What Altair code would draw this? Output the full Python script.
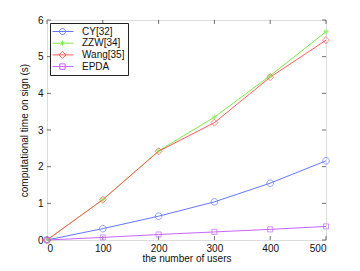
import altair as alt
import pandas as pd

users = [0, 100, 200, 300, 400, 500]
series_names = ["CY[32]", "ZZW[34]", "Wang[35]", "EPDA"]
cy = [0, 0.31, 0.65, 1.04, 1.55, 2.16]
zzw = [0, 1.10, 2.43, 3.35, 4.48, 5.68]
wang = [0, 1.10, 2.42, 3.20, 4.44, 5.45]
epda = [0, 0.07, 0.15, 0.22, 0.29, 0.37]
x_ticks = [0, 100, 200, 300, 400, 500]
y_ticks = [0, 1, 2, 3, 4, 5, 6]

colors = ["#6478ff", "#7ee84a", "#ff5c5c", "#c864ff"]
marker_paths = [
    "M1,0A1,1 0 1,1 -1,0A1,1 0 1,1 1,0",
    "M-1,0L1,0M0,-1L0,1M-0.7,-0.7L0.7,0.7M-0.7,0.7L0.7,-0.7",
    "M0,-1L1,0L0,1L-1,0Z",
    "M-0.8,-0.8L0.8,-0.8L0.8,0.8L-0.8,0.8Z",
]
marker_sizes = [44, 30, 50, 40]
# legend symbols: unit = 5px (symbolSize 100); line from -1.2 to 3.0, marker at 0.8
legend_paths = [
    "M-1.2,0L3,0M1.4,0A0.6,0.6 0 1,1 0.2,0A0.6,0.6 0 1,1 1.4,0",
    "M-1.2,0L3,0M0.8,-0.5L0.8,0.5M0.45,-0.35L1.15,0.35M0.45,0.35L1.15,-0.35",
    "M-1.2,0L3,0M0.8,-0.7L1.5,0L0.8,0.7L0.1,0Z",
    "M-1.2,0L3,0M0.26,-0.54L1.34,-0.54L1.34,0.54L0.26,0.54Z",
]

rows = []
for name, vals in zip(series_names, [cy, zzw, wang, epda]):
    for u, v in zip(users, vals):
        rows.append({"users": u, "time": v, "series": name})
df = pd.DataFrame(rows)
xtick_df = pd.DataFrame({"v": x_ticks})
ytick_df = pd.DataFrame({"v": y_ticks})

W, H = 279, 220
FONT = "Liberation Sans"
AXC = "#333"

shape_expr = " : ".join(
    f"datum.value == '{n}' ? '{p}'" for n, p in zip(series_names[:-1], legend_paths[:-1])
) + f" : '{legend_paths[-1]}'"


def xs():
    return alt.Scale(domain=[0, 500], nice=False, zero=False)


def ys():
    return alt.Scale(domain=[0, 6], nice=False, zero=False)


color_scale = alt.Scale(domain=series_names, range=colors)

legend = alt.Legend(
    orient="none", legendX=3, legendY=3, title=None,
    strokeColor="#222", fillColor="white", padding=3,
    labelFont=FONT, labelFontSize=10, labelColor="#111", labelOffset=18,
    symbolSize=100, symbolStrokeWidth=1, rowPadding=0.7,
    symbolFillColor="transparent",
    symbolType=alt.ExprRef(expr=shape_expr))

base = alt.Chart(df)

lines = base.mark_line(strokeWidth=1).encode(
    x=alt.X("users:Q", scale=xs(), axis=alt.Axis(
        orient="bottom", values=x_ticks, ticks=False, domain=False, grid=False,
        labelFont=FONT, labelFontSize=10, labelColor="#111", labelPadding=3,
        title="the number of users", titleFont=FONT, titleFontSize=10,
        titleFontWeight="normal", titleColor="#111", titlePadding=0)),
    y=alt.Y("time:Q", scale=ys(), axis=alt.Axis(
        orient="left", values=y_ticks, ticks=False, domain=False, grid=False,
        labelFont=FONT, labelFontSize=10, labelColor="#111", labelPadding=4,
        title="computational time on sign (s)", titleFont=FONT, titleFontSize=10,
        titleFontWeight="normal", titleColor="#111", titlePadding=8)),
    color=alt.Color("series:N", scale=color_scale, sort=series_names, legend=legend),
    detail="series:N",
)

layers = []
# inward tick marks on all four sides (MATLAB style box)
xt = alt.Chart(xtick_df)
yt = alt.Chart(ytick_df)
layers.append(xt.mark_tick(orient="vertical", size=4, thickness=1, color=AXC, yOffset=-2)
              .encode(x=alt.X("v:Q", scale=xs(), axis=None), y=alt.value(H)))
layers.append(xt.mark_tick(orient="vertical", size=4, thickness=1, color=AXC, yOffset=2)
              .encode(x=alt.X("v:Q", scale=xs(), axis=None), y=alt.value(0)))
layers.append(yt.mark_tick(orient="horizontal", size=4, thickness=1, color=AXC, xOffset=2)
              .encode(y=alt.Y("v:Q", scale=ys(), axis=None), x=alt.value(0)))
layers.append(yt.mark_tick(orient="horizontal", size=4, thickness=1, color=AXC, xOffset=-2)
              .encode(y=alt.Y("v:Q", scale=ys(), axis=None), x=alt.value(W)))

layers.append(lines)
for name, col, path, sz in zip(series_names, colors, marker_paths, marker_sizes):
    layers.append(
        base.transform_filter(alt.datum.series == name)
        .mark_point(filled=False, strokeWidth=1, size=sz, shape=path, color=col)
        .encode(
            x=alt.X("users:Q", scale=xs(), axis=None),
            y=alt.Y("time:Q", scale=ys(), axis=None),
        )
    )

chart = alt.layer(*layers).resolve_scale(
    x="independent", y="independent"
).resolve_axis(
    x="independent", y="independent"
).properties(
    width=W, height=H,
    autosize=alt.AutoSizeParams(type="none"),
    padding={"left": 39, "top": 12, "right": 10, "bottom": 30},
).configure_view(stroke=AXC, strokeWidth=1).configure(background="white")

chart.save("out.html", embed_options={"renderer": "svg", "actions": False})
